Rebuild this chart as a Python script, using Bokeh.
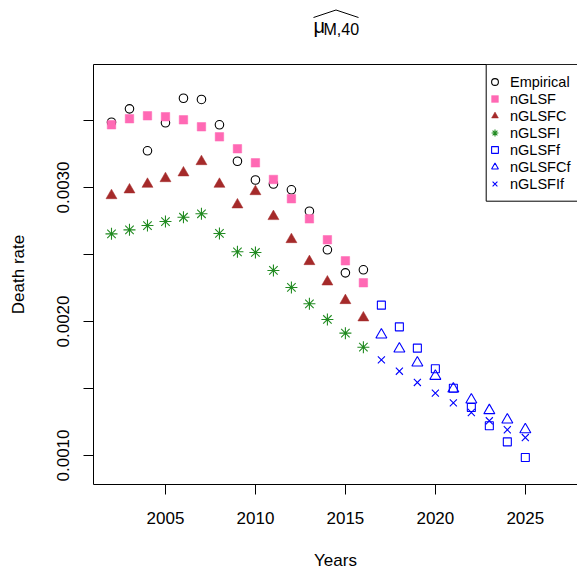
from bokeh.plotting import figure
from bokeh.layouts import column
from bokeh.models import (Range1d, FixedTicker, Legend, LegendItem, BoxAnnotation,
                          LinearAxis, PrintfTickFormatter)
from bokeh.core.properties import value
from bokeh.embed import file_html
from bokeh.resources import INLINE

# ---------------- data ----------------
years_obs = list(range(2002, 2017))
years_fc = list(range(2017, 2026))

empirical = [0.003487, 0.003587, 0.003274, 0.003483, 0.003666, 0.003657, 0.003468, 0.003196,
             0.003056, 0.003026, 0.002983, 0.002823, 0.002535, 0.002363, 0.002386]
nglsf = [0.003468, 0.003513, 0.003535, 0.003528, 0.003505, 0.003453, 0.003378, 0.003289,
         0.003184, 0.003060, 0.002916, 0.002766, 0.002610, 0.002453, 0.002289]
nglsfc = [0.002940, 0.002983, 0.003025, 0.003067, 0.003110, 0.003194, 0.003025, 0.002871,
          0.002970, 0.002784, 0.002612, 0.002448, 0.002296, 0.002157, 0.002028]
nglsfi = [0.002654, 0.002684, 0.002716, 0.002746, 0.002778, 0.002804, 0.002657, 0.002520,
          0.002515, 0.002381, 0.002254, 0.002132, 0.002015, 0.001913, 0.001808]
nglsff = [0.002122, 0.001960, 0.001801, 0.001647, 0.001502, 0.001358, 0.001222, 0.001102, 0.000985]
nglsfcf = [0.001901, 0.001796, 0.001692, 0.001592, 0.001498, 0.001416, 0.001336, 0.001266, 0.001194]
nglsfif = [0.001714, 0.001629, 0.001545, 0.001465, 0.001393, 0.001321, 0.001259, 0.001192, 0.001134]

series_labels = ["Empirical", "nGLSF", "nGLSFC", "nGLSFI", "nGLSFf", "nGLSFCf", "nGLSFIf"]

x_ticks = [2005, 2010, 2015, 2020, 2025]
y_ticks = [0.0010, 0.0020, 0.0030]
y_minor = [0.0015, 0.0025, 0.0035]

FONT = "Liberation Sans"
W = 577
LEFT = 93                  # left border of every strip (frames are aligned)
TITLE_H = 64
XLAB_H = 37
MAIN_H = 571 - TITLE_H - XLAB_H


def strip(height):
    f = figure(width=W, height=height, output_backend="svg", toolbar_location=None,
               x_range=Range1d(LEFT, W), y_range=Range1d(height, 0),
               x_axis_type=None, y_axis_type=None, min_border=0, min_border_left=LEFT)
    f.grid.visible = False
    f.outline_line_color = None
    return f


# ---------------- title strip: widehat(mu)[M,40] ----------------
t = strip(TITLE_H)
t.text(x=[313], y=[25.5], text=["μ"], text_font=value(FONT), text_font_size="20px",
       text_color="black", text_baseline="alphabetic", text_align="left")
t.text(x=[323], y=[28.5], text=["M,40"], text_font=value(FONT), text_font_size="16px",
       text_color="black", text_baseline="alphabetic", text_align="left")
t.line(x=[313, 335.5, 358], y=[17, 9.5, 17], line_color="black", line_width=1)

# ---------------- main plot ----------------
p = figure(width=W, height=MAIN_H, output_backend="svg", toolbar_location=None,
           x_range=Range1d(2001.0, 2027.9), y_range=Range1d(0.00078358, 0.0039179),
           min_border_left=LEFT, min_border_right=0, min_border_top=0,
           min_border_bottom=MAIN_H - 420)
p.grid.visible = False
p.outline_line_color = None

xax = p.below[0]
yax = p.left[0]
for ax in (xax, yax):
    ax.axis_line_color = "black"
    ax.major_tick_line_color = "black"
    ax.minor_tick_line_color = "black"
    ax.major_tick_out = 10
    ax.major_tick_in = 0
    ax.minor_tick_out = 10
    ax.minor_tick_in = 0
    ax.major_label_text_font = FONT
    ax.major_label_text_font_size = "17px"
    ax.major_label_text_color = "black"
    ax.axis_label_text_font = FONT
    ax.axis_label_text_font_size = "17px"
    ax.axis_label_text_font_style = "normal"
    ax.axis_label_text_color = "black"

xax.ticker = FixedTicker(ticks=x_ticks, minor_ticks=[])
xax.major_label_standoff = 17

yax.ticker = FixedTicker(ticks=y_ticks, minor_ticks=y_minor)
yax.formatter = PrintfTickFormatter(format="%.4f")
yax.major_label_orientation = "vertical"
yax.major_label_standoff = 14
yax.axis_label = "Death rate"
yax.axis_label_standoff = 27

# top line of the box (axis without ticks or labels)
top_ax = LinearAxis(ticker=FixedTicker(ticks=[], minor_ticks=[]), major_tick_out=0,
                    major_tick_in=0, minor_tick_out=0, minor_tick_in=0,
                    major_label_standoff=0, axis_label_standoff=0,
                    major_label_text_font_size="0px", axis_line_color="black")
p.add_layout(top_ax, "above")

# ---------------- points ----------------
r_emp = p.scatter(years_obs, empirical, marker="circle", size=8.5, fill_color=None,
                  line_color="black", line_width=1.1)
r_f = p.scatter(years_obs, nglsf, marker="square", size=8.5, fill_color="#FF69B4",
                line_color="#FF69B4", line_width=0.5)
r_fc = p.scatter(years_obs, nglsfc, marker="triangle", size=11, fill_color="#A52A2A",
                 line_color="#A52A2A", line_width=0.5)
r_fi = p.scatter(years_obs, nglsfi, marker="asterisk", size=12, line_color="#228B22",
                 line_width=1.1)
r_ff = p.scatter(years_fc, nglsff, marker="square", size=8, fill_color=None,
                 line_color="blue", line_width=1.1)
r_fcf = p.scatter(years_fc, nglsfcf, marker="triangle", size=11, fill_color=None,
                  line_color="blue", line_width=1.1)
r_fif = p.scatter(years_fc, nglsfif, marker="x", size=10, line_color="blue", line_width=1.1)

renderers = [r_emp, r_f, r_fc, r_fi, r_ff, r_fcf, r_fif]

# legend frame (its right edge lies beyond the picture, as in the reference)
p.add_layout(BoxAnnotation(left=392.7, right=560, top=420, bottom=283.3,
                           left_units="screen", right_units="screen",
                           top_units="screen", bottom_units="screen",
                           fill_color="white", fill_alpha=1.0,
                           line_color="black", line_width=1, line_alpha=1.0))

legend = Legend(items=[LegendItem(label=lab, renderers=[r])
                       for lab, r in zip(series_labels, renderers)],
                location=(393, 292), margin=0, padding=3, spacing=0,
                glyph_width=17, glyph_height=17, label_height=17, label_standoff=7,
                label_text_font=FONT, label_text_font_size="14.5px",
                label_text_color="black", border_line_color=None,
                background_fill_alpha=0.0)
p.add_layout(legend)

# ---------------- x-axis title strip ----------------
b = strip(XLAB_H)
b.text(x=[335], y=[560 - (571 - XLAB_H)], text=["Years"], text_font=value(FONT),
       text_font_size="17px", text_color="black", text_baseline="middle", text_align="center")

layout = column(t, p, b, spacing=0)
open("out.html", "w").write(file_html(layout, INLINE))
